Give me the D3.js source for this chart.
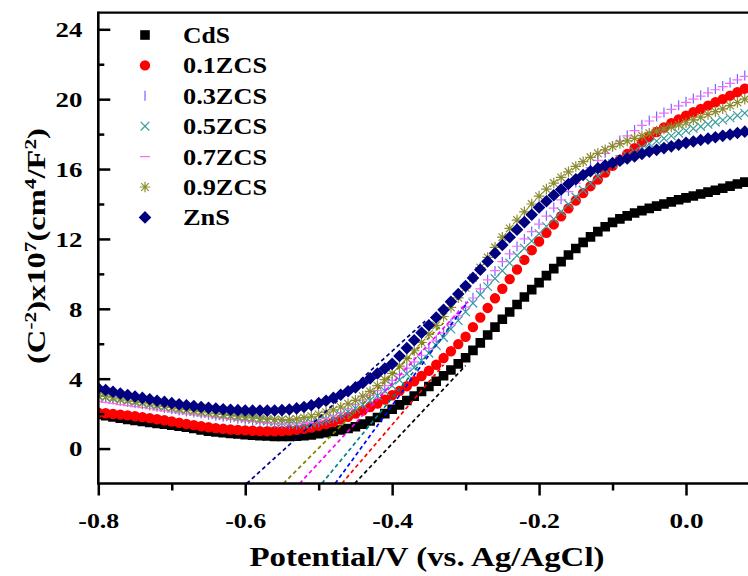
<!DOCTYPE html>
<html>
<head>
<meta charset="utf-8">
<script src="https://cdn.jsdelivr.net/npm/d3@7"></script>
<style>
    html, body { margin: 0; padding: 0; background: #fff; }
    svg { display: block; }
    text { font-family: "Liberation Serif", "Times New Roman", serif; font-weight: bold; fill: #000; }
</style>
</head>
<body>
<svg id="chart" width="748" height="576"></svg>
<script>
// potential grid (V vs. Ag/AgCl)
const potential = [
    -0.80, -0.79, -0.78, -0.77, -0.76, -0.75, -0.74, -0.73, -0.72, -0.71,
    -0.70, -0.69, -0.68, -0.67, -0.66, -0.65, -0.64, -0.63, -0.62, -0.61,
    -0.60, -0.59, -0.58, -0.57, -0.56, -0.55, -0.54, -0.53, -0.52, -0.51,
    -0.50, -0.49, -0.48, -0.47, -0.46, -0.45, -0.44, -0.43, -0.42, -0.41,
    -0.40, -0.39, -0.38, -0.37, -0.36, -0.35, -0.34, -0.33, -0.32, -0.31,
    -0.30, -0.29, -0.28, -0.27, -0.26, -0.25, -0.24, -0.23, -0.22, -0.21,
    -0.20, -0.19, -0.18, -0.17, -0.16, -0.15, -0.14, -0.13, -0.12, -0.11,
    -0.10, -0.09, -0.08, -0.07, -0.06, -0.05, -0.04, -0.03, -0.02, -0.01,
    0.00, 0.01, 0.02, 0.03, 0.04, 0.05, 0.06, 0.07, 0.08
];

const seriesNames = ['CdS', '0.1ZCS', '0.3ZCS', '0.5ZCS', '0.7ZCS', '0.9ZCS', 'ZnS'];

const cds = [
    1.95, 1.88, 1.81, 1.74, 1.67, 1.61, 1.55, 1.49, 1.44, 1.39,
    1.34, 1.28, 1.22, 1.15, 1.07, 1.00, 0.95, 0.91, 0.87, 0.83,
    0.80, 0.77, 0.74, 0.72, 0.70, 0.70, 0.70, 0.71, 0.73, 0.78,
    0.85, 0.91, 0.98, 1.06, 1.15, 1.25, 1.40, 1.58, 1.78, 2.00,
    2.25, 2.50, 2.75, 3.00, 3.27, 3.55, 3.85, 4.17, 4.50, 4.85,
    5.20, 5.62, 6.05, 6.50, 6.95, 7.40, 7.82, 8.25, 8.68, 9.10,
    9.50, 9.90, 10.30, 10.70, 11.08, 11.45, 11.80, 12.12, 12.42, 12.70,
    12.95, 13.15, 13.32, 13.48, 13.62, 13.75, 13.88, 14.00, 14.12, 14.24,
    14.35, 14.46, 14.57, 14.68, 14.79, 14.90, 15.02, 15.14, 15.25
];
const zcs01 = [
    2.05, 2.02, 1.98, 1.94, 1.90, 1.85, 1.80, 1.74, 1.68, 1.62,
    1.55, 1.48, 1.41, 1.34, 1.28, 1.22, 1.17, 1.13, 1.09, 1.06,
    1.04, 1.02, 1.00, 0.99, 0.99, 1.00, 1.03, 1.07, 1.13, 1.20,
    1.30, 1.40, 1.52, 1.66, 1.82, 2.00, 2.18, 2.38, 2.58, 2.80,
    3.05, 3.30, 3.57, 3.85, 4.15, 4.45, 4.80, 5.18, 5.57, 5.98,
    6.40, 6.95, 7.50, 8.05, 8.60, 9.15, 9.70, 10.25, 10.80, 11.35,
    11.85, 12.35, 12.83, 13.30, 13.75, 14.20, 14.62, 15.02, 15.40, 15.80,
    16.18, 16.53, 16.87, 17.20, 17.53, 17.85, 18.12, 18.38, 18.62, 18.84,
    19.05, 19.25, 19.44, 19.63, 19.82, 20.00, 20.20, 20.40, 20.60
];
const zcs03 = [
    2.95, 2.88, 2.81, 2.74, 2.67, 2.60, 2.53, 2.46, 2.39, 2.32,
    2.25, 2.18, 2.12, 2.06, 2.00, 1.94, 1.88, 1.82, 1.76, 1.70,
    1.65, 1.60, 1.55, 1.50, 1.46, 1.42, 1.39, 1.37, 1.38, 1.42,
    1.50, 1.60, 1.73, 1.89, 2.08, 2.30, 2.55, 2.83, 3.13, 3.45,
    3.80, 4.17, 4.55, 4.94, 5.34, 5.76, 6.20, 6.66, 7.14, 7.63,
    8.13, 8.64, 9.15, 9.66, 10.17, 10.68, 11.13, 11.57, 12.00, 12.43,
    12.87, 13.33, 13.80, 14.27, 14.75, 15.23, 15.68, 16.11, 16.53, 16.93,
    17.30, 17.63, 17.94, 18.24, 18.53, 18.78, 19.01, 19.23, 19.45, 19.65,
    19.85, 20.04, 20.22, 20.40, 20.58, 20.76, 20.95, 21.15, 21.35
];
const zcs05 = [
    3.00, 2.93, 2.86, 2.79, 2.72, 2.65, 2.58, 2.51, 2.44, 2.37,
    2.30, 2.24, 2.18, 2.12, 2.06, 2.00, 1.94, 1.88, 1.83, 1.77,
    1.72, 1.67, 1.62, 1.57, 1.52, 1.47, 1.42, 1.40, 1.42, 1.48,
    1.56, 1.66, 1.78, 1.93, 2.10, 2.30, 2.52, 2.76, 3.02, 3.30,
    3.60, 3.92, 4.27, 4.64, 5.04, 5.46, 5.90, 6.36, 6.84, 7.33,
    7.83, 8.32, 8.80, 9.27, 9.73, 10.18, 10.62, 11.05, 11.47, 11.88,
    12.30, 12.72, 13.14, 13.56, 13.98, 14.40, 14.80, 15.20, 15.58, 15.95,
    16.30, 16.55, 16.78, 17.00, 17.23, 17.45, 17.60, 17.75, 17.90, 18.05,
    18.20, 18.32, 18.44, 18.56, 18.68, 18.80, 18.93, 19.07, 19.20
];
const zcs07 = [
    2.70, 2.64, 2.58, 2.52, 2.46, 2.40, 2.34, 2.28, 2.22, 2.16,
    2.10, 2.04, 1.98, 1.93, 1.87, 1.82, 1.77, 1.72, 1.67, 1.62,
    1.58, 1.54, 1.50, 1.46, 1.43, 1.41, 1.40, 1.41, 1.44, 1.50,
    1.60, 1.72, 1.87, 2.05, 2.28, 2.53, 2.78, 3.05, 3.32, 3.60,
    3.90, 4.24, 4.60, 4.96, 5.34, 5.74, 6.17, 6.62, 7.10, 7.60,
    8.10, 8.62, 9.14, 9.66, 10.18, 10.70, 11.15, 11.58, 12.00, 12.42,
    12.85, 13.30, 13.76, 14.23, 14.71, 15.20, 15.65, 16.08, 16.50, 16.90,
    17.28, 17.60, 17.90, 18.20, 18.50, 18.75, 18.98, 19.20, 19.42, 19.62,
    19.82, 20.00, 20.18, 20.36, 20.54, 20.72, 20.90, 21.10, 21.30
];
const zcs09 = [
    3.05, 2.98, 2.91, 2.84, 2.77, 2.70, 2.63, 2.56, 2.49, 2.42,
    2.35, 2.29, 2.23, 2.17, 2.11, 2.05, 2.00, 1.95, 1.90, 1.85,
    1.80, 1.76, 1.72, 1.69, 1.67, 1.66, 1.66, 1.70, 1.77, 1.85,
    1.95, 2.08, 2.22, 2.38, 2.56, 2.76, 3.00, 3.27, 3.60, 3.95,
    4.30, 4.72, 5.15, 5.60, 6.07, 6.55, 7.05, 7.56, 8.08, 8.63,
    9.20, 9.78, 10.36, 10.94, 11.52, 12.10, 12.60, 13.08, 13.55, 14.00,
    14.45, 14.85, 15.20, 15.52, 15.84, 16.15, 16.42, 16.67, 16.90, 17.10,
    17.30, 17.46, 17.61, 17.76, 17.91, 18.05, 18.17, 18.29, 18.41, 18.53,
    18.65, 18.81, 18.97, 19.13, 19.29, 19.45, 19.63, 19.81, 20.00
];
const zns = [
    3.45, 3.35, 3.25, 3.15, 3.06, 2.98, 2.90, 2.82, 2.74, 2.67,
    2.60, 2.54, 2.48, 2.43, 2.38, 2.33, 2.29, 2.25, 2.22, 2.20,
    2.18, 2.17, 2.17, 2.17, 2.18, 2.20, 2.24, 2.30, 2.38, 2.48,
    2.60, 2.74, 2.90, 3.08, 3.28, 3.50, 3.75, 4.02, 4.30, 4.58,
    4.85, 5.30, 5.75, 6.20, 6.63, 7.06, 7.50, 7.94, 8.40, 8.85,
    9.30, 9.77, 10.24, 10.71, 11.18, 11.65, 12.10, 12.53, 12.96, 13.38,
    13.80, 14.16, 14.50, 14.83, 15.14, 15.42, 15.66, 15.87, 16.05, 16.21,
    16.35, 16.48, 16.60, 16.72, 16.86, 17.00, 17.10, 17.20, 17.30, 17.40,
    17.50, 17.58, 17.66, 17.74, 17.82, 17.90, 17.98, 18.06, 18.14
];

// Mott-Schottky tangent lines, same order as seriesNames: [potential, value]
const fitFrom = [[-0.451, -2], [-0.4685, -2], [-0.4776, -2], [-0.4957, -2], [-0.526, -2], [-0.548, -2], [-0.598, -2]];
const fitTo = [[-0.30, 4.75], [-0.33, 4.8], [-0.297, 8.4], [-0.32, 7.0], [-0.297, 8.4], [-0.33, 7.2], [-0.355, 7.3]];

const xMajorTicks = [-0.8, -0.6, -0.4, -0.2, 0.0];
const xTickLabels = ['-0.8', '-0.6', '-0.4', '-0.2', '0.0'];
const xMinorTicks = [-0.7, -0.5, -0.3, -0.1];
const yMajorTicks = [0, 4, 8, 12, 16, 20, 24];
const yMinorTicks = [2, 6, 10, 14, 18, 22];

const seriesValues = [cds, zcs01, zcs03, zcs05, zcs07, zcs09, zns];
const markerTypes = ['square', 'circle', 'vbar', 'cross', 'hbar', 'star', 'diamond'];
const markerColors = ['#000000', '#ff0000', '#6a6aff', '#3a9c9c', '#ff66ff', '#8c8c30', '#000080'];
const fitColors = ['#000000', '#ff0000', '#0000ff', '#008080', '#ff00ff', '#808000', '#000080'];

const svg = d3.select('#chart');
const plotL = 98.3, plotR = 748, plotT = 12.7, plotB = 483.5;

const x = d3.scaleLinear().domain([-0.8, 0.0844]).range([plotL, plotR]);
const y = d3.scaleLinear().domain([-2, 24.95]).range([plotB, plotT]);

svg.append('defs').append('clipPath').attr('id', 'plotClip')
    .append('rect')
    .attr('x', plotL).attr('y', plotT)
    .attr('width', plotR - plotL).attr('height', plotB - plotT);

function markerPath(type, cx, cy) {
    const p = d3.path();
    if (type === 'square') {
        p.rect(cx - 4.8, cy - 4.8, 9.6, 9.6);
    } else if (type === 'circle') {
        p.moveTo(cx + 5.2, cy);
        p.arc(cx, cy, 5.2, 0, Math.PI * 2);
    } else if (type === 'diamond') {
        p.moveTo(cx, cy - 6.3);
        p.lineTo(cx + 6.3, cy);
        p.lineTo(cx, cy + 6.3);
        p.lineTo(cx - 6.3, cy);
        p.closePath();
    } else if (type === 'vbar') {
        p.moveTo(cx, cy - 5);
        p.lineTo(cx, cy + 5);
    } else if (type === 'hbar') {
        p.moveTo(cx - 5, cy);
        p.lineTo(cx + 5, cy);
    } else if (type === 'cross') {
        p.moveTo(cx - 4.3, cy - 4.3);
        p.lineTo(cx + 4.3, cy + 4.3);
        p.moveTo(cx - 4.3, cy + 4.3);
        p.lineTo(cx + 4.3, cy - 4.3);
    } else if (type === 'star') {
        p.moveTo(cx, cy - 5.3);
        p.lineTo(cx, cy + 5.3);
        p.moveTo(cx - 5.3, cy);
        p.lineTo(cx + 5.3, cy);
        p.moveTo(cx - 3.8, cy - 3.8);
        p.lineTo(cx + 3.8, cy + 3.8);
        p.moveTo(cx - 3.8, cy + 3.8);
        p.lineTo(cx + 3.8, cy - 3.8);
    }
    return p.toString();
}

function isFilled(type) {
    return type === 'square' || type === 'circle' || type === 'diamond';
}

// data markers
const plot = svg.append('g').attr('clip-path', 'url(#plotClip)');

seriesValues.forEach((vals, si) => {
    const type = markerTypes[si];
    const color = markerColors[si];
    plot.append('g')
        .selectAll('path')
        .data(vals.map((v, i) => ({ p: potential[i], v: v })))
        .join('path')
        .attr('d', d => markerPath(type, x(d.p), y(d.v)))
        .attr('fill', isFilled(type) ? color : 'none')
        .attr('stroke', isFilled(type) ? 'none' : color)
        .attr('stroke-width', isFilled(type) ? 0 : 1.2);
});

// tangent (fit) lines
plot.append('g')
    .selectAll('line')
    .data(fitFrom.map((f, i) => ({ from: f, to: fitTo[i], color: fitColors[i] })))
    .join('line')
    .attr('x1', d => x(d.from[0]))
    .attr('y1', d => y(d.from[1]))
    .attr('x2', d => x(d.to[0]))
    .attr('y2', d => y(d.to[1]))
    .attr('stroke', d => d.color)
    .attr('stroke-width', 1.7)
    .attr('stroke-dasharray', '4,3');

// axes
const xAxis = d3.axisBottom(x)
    .tickValues(xMajorTicks)
    .tickSize(12)
    .tickSizeOuter(0)
    .tickFormat((d, i) => xTickLabels[i]);

const gx = svg.append('g')
    .attr('transform', `translate(0,${plotB})`)
    .call(xAxis);
gx.select('.domain').remove();
gx.selectAll('.tick line').attr('stroke', '#000').attr('stroke-width', 2.5);
gx.selectAll('.tick text')
    .attr('y', 44)
    .attr('dy', null)
    .style('font-size', '21px')
    .attr('textLength', (d, i) => xTickLabels[i].length > 3 ? 41 : 34)
    .attr('lengthAdjust', 'spacingAndGlyphs');

svg.append('g')
    .attr('transform', `translate(0,${plotB})`)
    .call(d3.axisBottom(x).tickValues(xMinorTicks).tickSize(7).tickSizeOuter(0).tickFormat(''))
    .call(g => g.select('.domain').remove())
    .selectAll('.tick line').attr('stroke', '#000').attr('stroke-width', 2.5);

const yAxis = d3.axisLeft(y)
    .tickValues(yMajorTicks)
    .tickSize(-12)
    .tickSizeOuter(0)
    .tickPadding(16)
    .tickFormat(d3.format('d'));

const gy = svg.append('g')
    .attr('transform', `translate(${plotL},0)`)
    .call(yAxis);
gy.select('.domain').remove();
gy.selectAll('.tick line').attr('stroke', '#000').attr('stroke-width', 2.5);
gy.selectAll('.tick text')
    .attr('dy', '0.35em')
    .style('font-size', '21px')
    .attr('textLength', d => String(d).length * 13.4)
    .attr('lengthAdjust', 'spacingAndGlyphs');

svg.append('g')
    .attr('transform', `translate(${plotL},0)`)
    .call(d3.axisLeft(y).tickValues(yMinorTicks).tickSize(-6).tickSizeOuter(0).tickFormat(''))
    .call(g => g.select('.domain').remove())
    .selectAll('.tick line').attr('stroke', '#000').attr('stroke-width', 2.5);

// frame
svg.append('line')
    .attr('x1', plotL).attr('x2', plotL)
    .attr('y1', plotT - 1).attr('y2', plotB + 1)
    .attr('stroke', '#000').attr('stroke-width', 2.6);
svg.append('line')
    .attr('x1', plotL - 1).attr('x2', plotR)
    .attr('y1', plotB).attr('y2', plotB)
    .attr('stroke', '#000').attr('stroke-width', 2.6);
svg.append('line')
    .attr('x1', plotL - 1).attr('x2', plotR)
    .attr('y1', plotT).attr('y2', plotT)
    .attr('stroke', '#000').attr('stroke-width', 2.2);

// axis titles
svg.append('text')
    .attr('x', 427)
    .attr('y', 566)
    .attr('text-anchor', 'middle')
    .style('font-size', '27px')
    .attr('textLength', 355)
    .attr('lengthAdjust', 'spacingAndGlyphs')
    .text('Potential/V (vs. Ag/AgCl)');

const yTitle = svg.append('text')
    .attr('transform', 'translate(45,246) rotate(-90)')
    .attr('text-anchor', 'middle')
    .style('font-size', '26px')
    .attr('textLength', 236)
    .attr('lengthAdjust', 'spacingAndGlyphs');
const yTitleParts = [['(C', false], ['-2', true], [')x10', false], ['7', true], ['(cm', false], ['4', true], ['/F', false], ['2', true], [')', false]];
yTitleParts.forEach(([t, sup]) => {
    yTitle.append('tspan')
        .attr('baseline-shift', sup ? '55%' : null)
        .style('font-size', sup ? '17px' : null)
        .text(t);
});

// legend
const legend = svg.append('g');
seriesNames.forEach((name, i) => {
    const ly = 35 + i * 30.4;
    const type = markerTypes[i];
    legend.append('path')
        .attr('d', markerPath(type, 145, ly))
        .attr('fill', isFilled(type) ? markerColors[i] : 'none')
        .attr('stroke', isFilled(type) ? 'none' : markerColors[i])
        .attr('stroke-width', isFilled(type) ? 0 : 1.2);
    legend.append('text')
        .attr('x', 183)
        .attr('y', ly + 8)
        .style('font-size', '24px')
        .attr('textLength', name.length === 3 ? 47 : 84)
        .attr('lengthAdjust', 'spacingAndGlyphs')
        .text(name);
});
</script>
</body>
</html>
